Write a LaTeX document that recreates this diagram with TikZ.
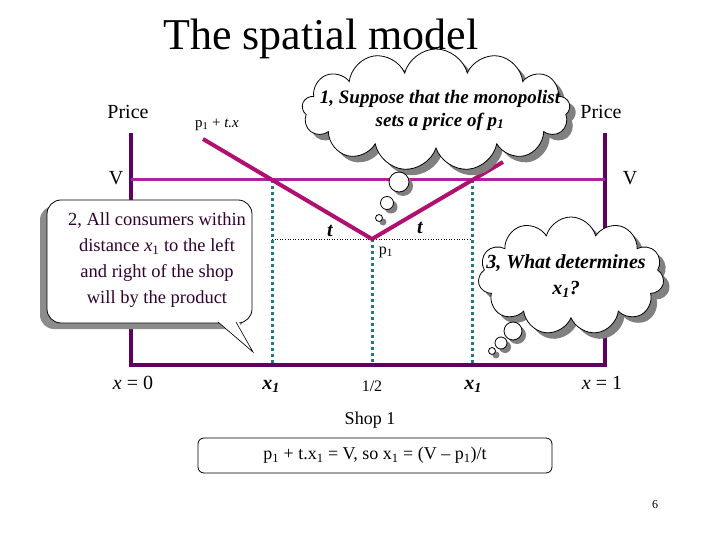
\documentclass[tikz,border=0pt]{standalone}
\usepackage{fontspec}
\setmainfont{Liberation Serif}
\usetikzlibrary{shapes.symbols,shadows}
\definecolor{framec}{RGB}{96,0,96}
\definecolor{vlinec}{RGB}{176,32,160}
\definecolor{vshapec}{RGB}{176,16,112}
\definecolor{tealc}{RGB}{40,120,120}
\definecolor{calltext}{RGB}{50,0,50}
\begin{document}
\begin{tikzpicture}[x=1pt,y=-1pt,
  lab/.style={font=\fontsize{20}{24}\selectfont, inner sep=0pt},
  smalllab/.style={font=\fontsize{16}{20}\selectfont, inner sep=0pt},
  tlab/.style={font=\fontsize{20}{24}\bfseries\itshape\selectfont, inner sep=0pt},
  thoughtfont/.style={inner sep=0pt, align=center},
  cloudbox/.style={cloud, cloud ignores aspect, draw=black, fill=white, line width=0.8pt,
     drop shadow={shadow xshift=6pt,shadow yshift=-6pt,fill=gray,opacity=1}},
  bubble/.style={circle, draw=black, fill=white, inner sep=0pt, line width=0.8pt,
     drop shadow={shadow xshift=4pt,shadow yshift=-4pt,fill=gray,opacity=1}},
  framestyle/.style={draw=framec, line width=4pt, line join=miter},
  tealdots/.style={draw=tealc, line width=3pt, dash pattern=on 3pt off 3pt},
]
\useasboundingbox (0,0) rectangle (720,540);
\fill[white] (0,0) rectangle (720,540);

% title
\node[font=\fontsize{44}{48}\selectfont, inner sep=0pt] (title) at (321,39) {The spatial model};

% coordinates
\coordinate (ftl) at (131,133);
\coordinate (fbl) at (131,365);
\coordinate (fbr) at (605,365);
\coordinate (ftr) at (605,133);
\coordinate (vl) at (131,180);
\coordinate (vr) at (605,180);
\coordinate (lstart) at (203,139);
\coordinate (vert) at (372,239);
\coordinate (rend) at (503,162);
\coordinate (xl) at (272,180);
\coordinate (xr) at (472,180);
\coordinate (xlb) at (272,365);
\coordinate (xmb) at (372,365);
\coordinate (xrb) at (472,365);
\coordinate (dl) at (272,239);
\coordinate (dr) at (472,239);

% frame
\draw[framestyle] (ftl) -- (fbl) -- (fbr) -- (ftr);
% V line
\draw[vlinec, line width=3pt] (vl) -- (vr);
% dotted black
\draw[black, line width=0.6pt, dotted] (dl) -- (dr);
% teal
\draw[tealdots] (xl) -- (xlb);
\draw[tealdots] (vert) -- (xmb);
\draw[tealdots] (xr) -- (xrb);
% V-shape
\draw[vshapec, line width=4pt] (lstart) -- (vert) -- (rend);

% labels
\node[lab] (price1) at (128,112) {Price};
\node[lab] (price2) at (601,112) {Price};
\node[lab] (v1) at (116,178) {V};
\node[lab] (v2) at (630,178) {V};
\node[font=\fontsize{15}{18}\selectfont, inner sep=0pt] (pfun) at (217,125) {p\textsubscript{1} + \textit{t.x}};
\node[tlab] (t1) at (330,231) {t};
\node[tlab] (t2) at (420,228) {t};
\node[smalllab] (p1) at (386,252) {p\textsubscript{1}};
\node[lab] (x0) at (133,383) {\textit{x} = 0};
\node[tlab] (x1a) at (271,386) {x\textsubscript{1}};
\node[smalllab] (half) at (372,386) {1/2};
\node[tlab] (x1b) at (473,386) {x\textsubscript{1}};
\node[lab] (x1lab) at (602,383) {\textit{x} = 1};
\node[font=\fontsize{18}{22}\selectfont, inner sep=0pt] (shop) at (370,420) {Shop 1};
\node[draw=black, line width=0.8pt, rounded corners=6pt, minimum width=354pt, minimum height=35pt,
      font=\fontsize{18}{22}\selectfont, inner sep=0pt] (eq) at (375,455.5)
      {p\textsubscript{1} + t.x\textsubscript{1} = V, so x\textsubscript{1} = (V -- p\textsubscript{1})/t};
\node[font=\fontsize{12}{14}\selectfont, inner sep=0pt] (page) at (655,505) {6};

% callout 2
\coordinate (tb1) at (218,322);
\coordinate (tip) at (253,352);
\coordinate (tb2) at (236,322);
\begin{scope}[shift={(-7,6)}]
  \fill[gray!90, rounded corners=14pt] (47,200) rectangle (252,323);
  \fill[gray!90] (tb1) -- (tip) -- (tb2) -- cycle;
\end{scope}
\draw[black, fill=white, line width=0.8pt, rounded corners=14pt] (47,200) rectangle (252,323);
\fill[white] (216,320) -- (tip) -- (238,320) -- cycle;
\draw[black, line width=0.6pt] (tb1) -- (tip) -- (tb2);
\node[inner sep=0pt, align=center, text=calltext, font=\fontsize{18.5}{26}\selectfont] (calltxt) at (157,260)
  {2, All consumers within\\distance \textit{x}\textsubscript{1} to the left\\and right of the shop\\will by the product};

% cloud 1
\node[cloudbox, cloud puffs=13, minimum width=268pt, minimum height=122pt] (c1) at (436,110) {};
\node[bubble, minimum size=20pt] (b1a) at (399,182) {};
\node[bubble, minimum size=13pt] (b1b) at (387,203) {};
\node[bubble, minimum size=7pt] (b1c) at (379,218) {};
\node[thoughtfont, font=\fontsize{19}{23}\bfseries\itshape\selectfont] (c1t) at (440,110)
  {1, Suppose that the monopolist\\sets a price of p\textsubscript{1}};

% cloud 3
\node[cloudbox, cloud puffs=11, minimum width=186pt, minimum height=118pt] (c3) at (571,276) {};
\node[bubble, minimum size=18pt] (b3a) at (513,331) {};
\node[bubble, minimum size=12pt] (b3b) at (501,343) {};
\node[bubble, minimum size=7pt] (b3c) at (492,351) {};
\node[thoughtfont, font=\fontsize{20}{26}\bfseries\itshape\selectfont] (c3t) at (566,276)
  {3, What determines\\x\textsubscript{1}?};
\end{tikzpicture}
\end{document}
